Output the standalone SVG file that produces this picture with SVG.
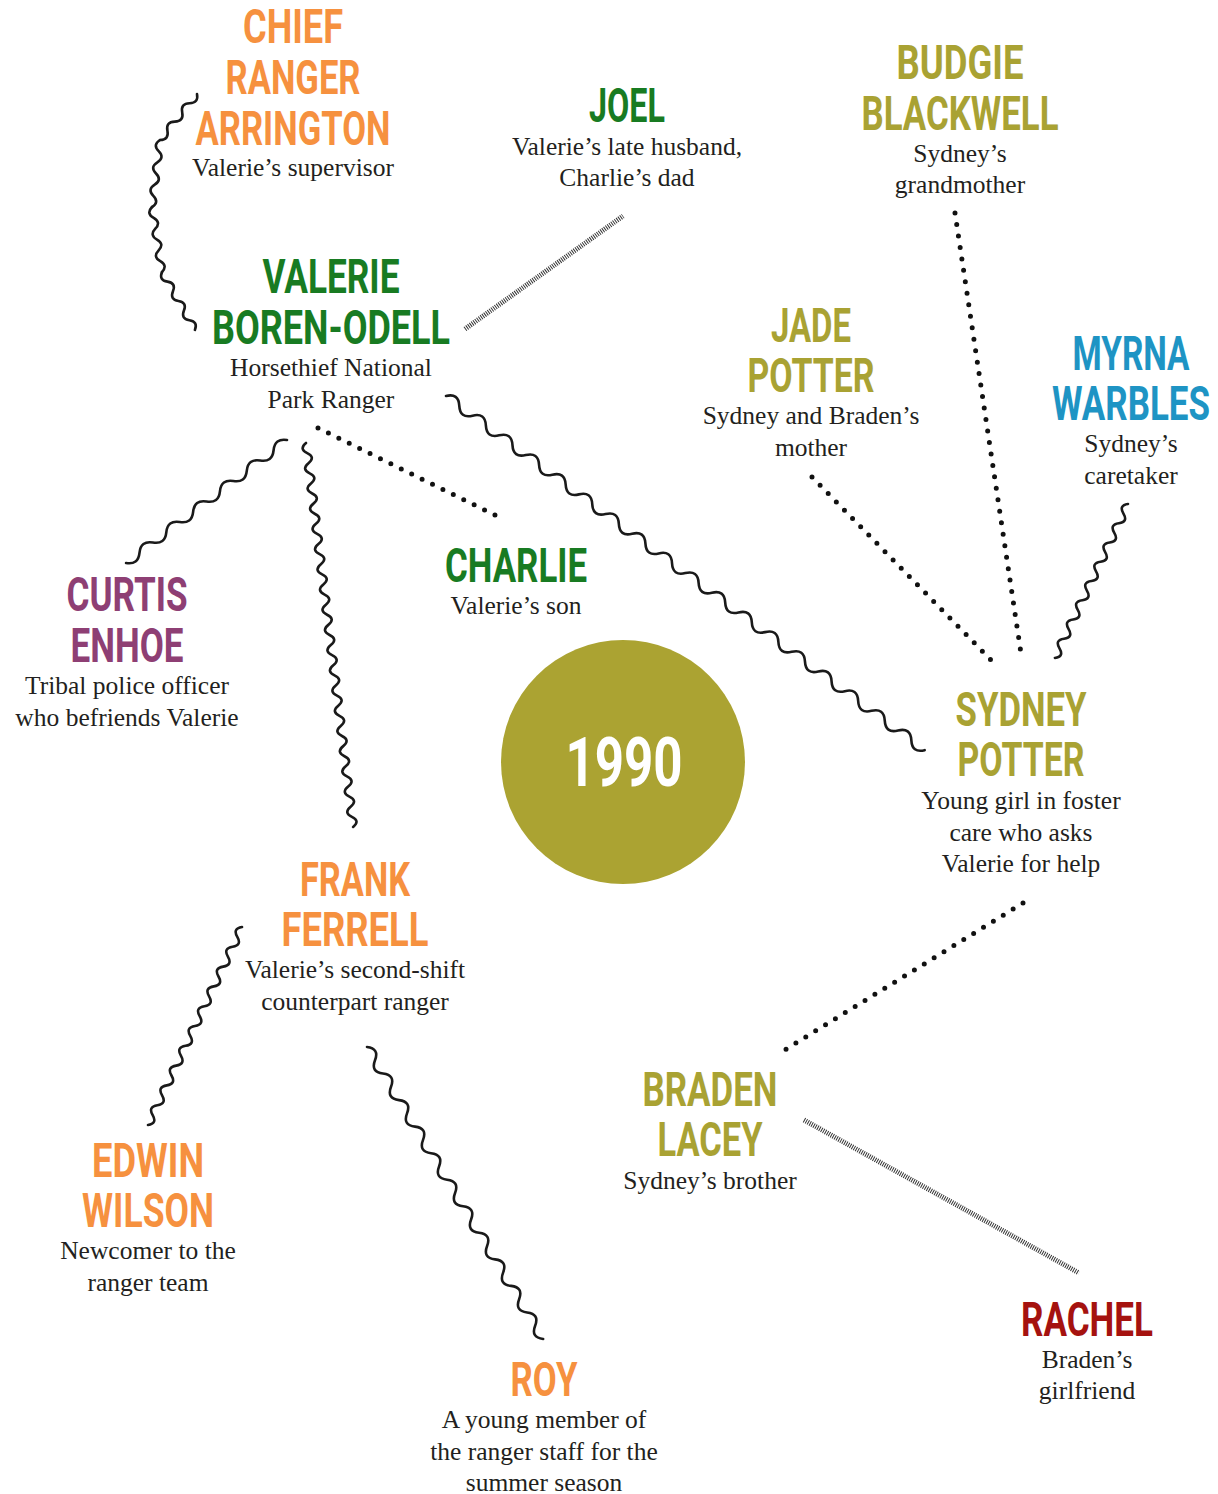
<svg xmlns="http://www.w3.org/2000/svg" width="1218" height="1494" viewBox="0 0 1218 1494">
<style>
.h{font-family:Roboto,"Liberation Sans",sans-serif;font-weight:700;font-size:48px;text-anchor:middle}
.s{font-family:"Liberation Serif","DejaVu Serif",serif;font-size:25.5px;fill:#231F20;text-anchor:middle}
.or{fill:#F6913F}.gr{fill:#187B22}.ol{fill:#A9A233}.bl{fill:#1E94C4}.pu{fill:#8E3F74}.rd{fill:#A5120F}
.wave{fill:none;stroke:#1a1a1a;stroke-width:2.6;stroke-linecap:round}
.dot{fill:none;stroke:#111;stroke-width:5;stroke-linecap:round;stroke-dasharray:0 11.6}
.hatch{fill:none;stroke:#333;stroke-width:5;stroke-dasharray:1 1.2}
</style>
<rect width="1218" height="1494" fill="#fff"/>
<g id="connectors">
  <g id="w1">
    <path class="wave" transform="translate(197,94) rotate(128.8)" d="M0,0 q5.9,-7 11.8,0 t11.8,0 t11.8,0 t11.8,0 t11.8,0"/>
    <path class="wave" transform="translate(160,140) rotate(96.8)" d="M0,0 q5.62,7 11.25,0 t11.25,0 t11.25,0 t11.25,0 t11.25,0 t11.25,0"/>
    <path class="wave" transform="translate(152,207) rotate(81.3)" d="M0,0 q5.48,7 10.97,0 t10.97,0 t10.97,0 t10.97,0 t10.97,0 t10.97,0"/>
    <path class="wave" transform="translate(162,272) rotate(60.4)" d="M0,0 q5.55,7 11.1,0 t11.1,0 t11.1,0 t11.1,0 t11.1,0 t11.1,0"/>
  </g>
  <path id="w2" class="wave" transform="translate(446,396) rotate(36.5)" d="M0,0 q8.27,-10 16.54,0 t16.54,0 t16.54,0 t16.54,0 t16.54,0 t16.54,0 t16.54,0 t16.54,0 t16.54,0 t16.54,0 t16.54,0 t16.54,0 t16.54,0 t16.54,0 t16.54,0 t16.54,0 t16.54,0 t16.54,0 t16.54,0 t16.54,0 t16.54,0 t16.54,0 t16.54,0 t16.54,0 t16.54,0 t16.54,0 t16.54,0 t16.54,0 t16.54,0 t16.54,0 t16.54,0 t16.54,0 t16.54,0 t16.54,0 t16.54,0 t16.54,0"/>
  <path id="w3" class="wave" transform="translate(287,440) rotate(142.6)" d="M0,0 q8.44,9 16.88,0 t16.88,0 t16.88,0 t16.88,0 t16.88,0 t16.88,0 t16.88,0 t16.88,0 t16.88,0 t16.88,0 t16.88,0 t16.88,0"/>
  <path id="w4" class="wave" transform="translate(306,443) rotate(83)" d="M0,0 q5.09,8 10.18,0 t10.18,0 t10.18,0 t10.18,0 t10.18,0 t10.18,0 t10.18,0 t10.18,0 t10.18,0 t10.18,0 t10.18,0 t10.18,0 t10.18,0 t10.18,0 t10.18,0 t10.18,0 t10.18,0 t10.18,0 t10.18,0 t10.18,0 t10.18,0 t10.18,0 t10.18,0 t10.18,0 t10.18,0 t10.18,0 t10.18,0 t10.18,0 t10.18,0 t10.18,0 t10.18,0 t10.18,0 t10.18,0 t10.18,0 t10.18,0 t10.18,0 t10.18,0 t10.18,0"/>
  <path id="w5" class="wave" transform="translate(1128,504) rotate(115.4)" d="M0,0 q5.32,8 10.65,0 t10.65,0 t10.65,0 t10.65,0 t10.65,0 t10.65,0 t10.65,0 t10.65,0 t10.65,0 t10.65,0 t10.65,0 t10.65,0 t10.65,0 t10.65,0 t10.65,0 t10.65,0"/>
  <path id="w6" class="wave" transform="translate(242,927) rotate(115.4)" d="M0,0 q5.48,8 10.96,0 t10.96,0 t10.96,0 t10.96,0 t10.96,0 t10.96,0 t10.96,0 t10.96,0 t10.96,0 t10.96,0 t10.96,0 t10.96,0 t10.96,0 t10.96,0 t10.96,0 t10.96,0 t10.96,0 t10.96,0 t10.96,0 t10.96,0"/>
  <path id="w7" class="wave" transform="translate(367,1047) rotate(58.9)" d="M0,0 q7.75,-10 15.5,0 t15.5,0 t15.5,0 t15.5,0 t15.5,0 t15.5,0 t15.5,0 t15.5,0 t15.5,0 t15.5,0 t15.5,0 t15.5,0 t15.5,0 t15.5,0 t15.5,0 t15.5,0 t15.5,0 t15.5,0 t15.5,0 t15.5,0 t15.5,0 t15.5,0"/>
  <line id="d1" class="dot" x1="318" y1="428" x2="503" y2="519"/>
  <line id="d2" class="dot" x1="812" y1="477" x2="991" y2="660"/>
  <line id="d3" class="dot" x1="955" y1="213" x2="1022" y2="660"/>
  <line id="d4" class="dot" x1="1023" y1="903" x2="783" y2="1051"/>
  <line id="h1" class="hatch" x1="465" y1="329" x2="623" y2="216"/>
  <line id="h2" class="hatch" x1="804" y1="1120" x2="1079" y2="1273"/>
</g>
<g id="chief">
  <text class="h or" x="293" y="43" textLength="100" lengthAdjust="spacingAndGlyphs">CHIEF</text>
  <text class="h or" x="293" y="94" textLength="135" lengthAdjust="spacingAndGlyphs">RANGER</text>
  <text class="h or" x="293" y="145" textLength="195" lengthAdjust="spacingAndGlyphs">ARRINGTON</text>
  <text class="s" x="293" y="176">Valerie’s supervisor</text>
</g>
<g id="joel">
  <text class="h gr" x="627" y="122" textLength="76" lengthAdjust="spacingAndGlyphs">JOEL</text>
  <text class="s" x="627" y="155">Valerie’s late husband,</text>
  <text class="s" x="627" y="186">Charlie’s dad</text>
</g>
<g id="budgie">
  <text class="h ol" x="960" y="79" textLength="127" lengthAdjust="spacingAndGlyphs">BUDGIE</text>
  <text class="h ol" x="960" y="130" textLength="197" lengthAdjust="spacingAndGlyphs">BLACKWELL</text>
  <text class="s" x="960" y="162">Sydney’s</text>
  <text class="s" x="960" y="193">grandmother</text>
</g>
<g id="valerie">
  <text class="h gr" x="331" y="293" textLength="137" lengthAdjust="spacingAndGlyphs">VALERIE</text>
  <text class="h gr" x="331" y="344" textLength="238" lengthAdjust="spacingAndGlyphs">BOREN-ODELL</text>
  <text class="s" x="331" y="376">Horsethief National</text>
  <text class="s" x="331" y="408">Park Ranger</text>
</g>
<g id="jade">
  <text class="h ol" x="811" y="342" textLength="80" lengthAdjust="spacingAndGlyphs">JADE</text>
  <text class="h ol" x="811" y="392" textLength="127" lengthAdjust="spacingAndGlyphs">POTTER</text>
  <text class="s" x="811" y="424">Sydney and Braden’s</text>
  <text class="s" x="811" y="456">mother</text>
</g>
<g id="myrna">
  <text class="h bl" x="1131" y="370" textLength="117" lengthAdjust="spacingAndGlyphs">MYRNA</text>
  <text class="h bl" x="1131" y="420" textLength="158" lengthAdjust="spacingAndGlyphs">WARBLES</text>
  <text class="s" x="1131" y="452">Sydney’s</text>
  <text class="s" x="1131" y="484">caretaker</text>
</g>
<g id="charlie">
  <text class="h gr" x="516" y="582" textLength="142" lengthAdjust="spacingAndGlyphs">CHARLIE</text>
  <text class="s" x="516" y="614">Valerie’s son</text>
</g>
<g id="curtis">
  <text class="h pu" x="127" y="611" textLength="121" lengthAdjust="spacingAndGlyphs">CURTIS</text>
  <text class="h pu" x="127" y="662" textLength="113" lengthAdjust="spacingAndGlyphs">ENHOE</text>
  <text class="s" x="127" y="694">Tribal police officer</text>
  <text class="s" x="127" y="726">who befriends Valerie</text>
</g>
<g id="year">
  <circle cx="623" cy="762" r="122" fill="#ABA332"/>
  <text x="624" y="786" font-family="Roboto,'Liberation Sans',sans-serif" font-weight="700" font-size="69" fill="#fff" text-anchor="middle" textLength="117" lengthAdjust="spacingAndGlyphs">1990</text>
</g>
<g id="sydney">
  <text class="h ol" x="1021" y="726" textLength="131" lengthAdjust="spacingAndGlyphs">SYDNEY</text>
  <text class="h ol" x="1021" y="776" textLength="127" lengthAdjust="spacingAndGlyphs">POTTER</text>
  <text class="s" x="1021" y="809">Young girl in foster</text>
  <text class="s" x="1021" y="841">care who asks</text>
  <text class="s" x="1021" y="872">Valerie for help</text>
</g>
<g id="frank">
  <text class="h or" x="355" y="896" textLength="110" lengthAdjust="spacingAndGlyphs">FRANK</text>
  <text class="h or" x="355" y="946" textLength="147" lengthAdjust="spacingAndGlyphs">FERRELL</text>
  <text class="s" x="355" y="978">Valerie’s second-shift</text>
  <text class="s" x="355" y="1010">counterpart ranger</text>
</g>
<g id="braden">
  <text class="h ol" x="710" y="1106" textLength="135" lengthAdjust="spacingAndGlyphs">BRADEN</text>
  <text class="h ol" x="710" y="1156" textLength="105" lengthAdjust="spacingAndGlyphs">LACEY</text>
  <text class="s" x="710" y="1189">Sydney’s brother</text>
</g>
<g id="edwin">
  <text class="h or" x="148" y="1177" textLength="112" lengthAdjust="spacingAndGlyphs">EDWIN</text>
  <text class="h or" x="148" y="1227" textLength="132" lengthAdjust="spacingAndGlyphs">WILSON</text>
  <text class="s" x="148" y="1259">Newcomer to the</text>
  <text class="s" x="148" y="1291">ranger team</text>
</g>
<g id="roy">
  <text class="h or" x="544" y="1396" textLength="67" lengthAdjust="spacingAndGlyphs">ROY</text>
  <text class="s" x="544" y="1428">A young member of</text>
  <text class="s" x="544" y="1460">the ranger staff for the</text>
  <text class="s" x="544" y="1491">summer season</text>
</g>
<g id="rachel">
  <text class="h rd" x="1087" y="1336" textLength="132" lengthAdjust="spacingAndGlyphs">RACHEL</text>
  <text class="s" x="1087" y="1368">Braden’s</text>
  <text class="s" x="1087" y="1399">girlfriend</text>
</g>
</svg>
